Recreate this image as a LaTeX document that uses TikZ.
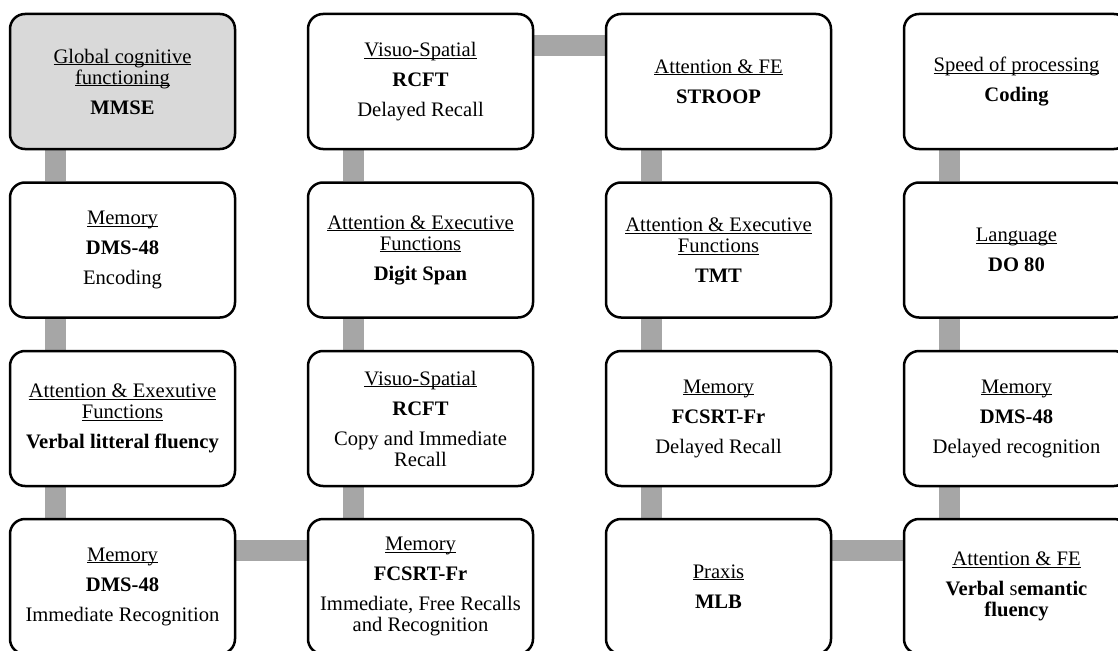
\documentclass[tikz,border=0pt]{standalone}
\usepackage{fontspec}
\setmainfont{Liberation Serif}
\usetikzlibrary{backgrounds}
\definecolor{barg}{RGB}{166,166,166}
\definecolor{boxg}{RGB}{217,217,217}
\newcommand\undl[1]{\underline{\raisebox{0pt}[\height][0pt]{#1}}}
\tikzstyle{testbox}=[draw,rounded corners=15pt,line width=2.5pt,fill=white,minimum width=225pt,minimum height=135pt,align=center,inner sep=0pt,font=\fontsize{20.6}{21}\selectfont]
\tikzstyle{linkbar}=[barg,line width=21pt]

\begin{document}
\begin{tikzpicture}[x=1pt,y=-1pt]
\useasboundingbox (0,0) rectangle (1118,650);
\clip (0,0) rectangle (1118,650);
% first column
\node[testbox,fill=boxg] (mmse) at (122.5,81.5) {\undl{Global cognitive}\\\undl{functioning}\\[9pt]\textbf{MMSE}};
\node[testbox] (dmsenc) at (122.5,250) {\undl{Memory}\\[9pt]\textbf{DMS-48}\\[9pt]Encoding};
\node[testbox] (vlf) at (122.5,418.5) {\undl{Attention \& Exexutive}\\\undl{Functions}\\[9pt]\textbf{Verbal litteral fluency}};
\node[testbox] (dmsimm) at (122.5,586.5) {\undl{Memory}\\[9pt]\textbf{DMS-48}\\[9pt]Immediate Recognition};
% second column
\node[testbox] (rcftdel) at (420.5,81.5) {\undl{Visuo-Spatial}\\[9pt]\textbf{RCFT}\\[9pt]Delayed Recall};
\node[testbox] (digit) at (420.5,250) {\undl{Attention \& Executive}\\\undl{Functions}\\[9pt]\textbf{Digit Span}};
\node[testbox] (rcftcopy) at (420.5,418.5) {\undl{Visuo-Spatial}\\[9pt]\textbf{RCFT}\\[9pt]Copy and Immediate\\Recall};
\node[testbox] (fcsimm) at (420.5,586.5) {\undl{Memory}\\[9pt]\textbf{FCSRT-Fr}\\[9pt]Immediate, Free Recalls\\and Recognition};
% third column
\node[testbox] (stroop) at (718.5,81.5) {\undl{Attention \& FE}\\[9pt]\textbf{STROOP}};
\node[testbox] (tmt) at (718.5,250) {\undl{Attention \& Executive}\\\undl{Functions}\\[9pt]\textbf{TMT}};
\node[testbox] (fcsdel) at (718.5,418.5) {\undl{Memory}\\[9pt]\textbf{FCSRT-Fr}\\[9pt]Delayed Recall};
\node[testbox] (mlb) at (718.5,586.5) {\undl{Praxis}\\[9pt]\textbf{MLB}};
% fourth column
\node[testbox] (coding) at (1016.5,81.5) {\undl{Speed of processing}\\[9pt]\textbf{Coding}};
\node[testbox] (do80) at (1016.5,250) {\undl{Language}\\[9pt]\textbf{DO 80}};
\node[testbox] (dmsdel) at (1016.5,418.5) {\undl{Memory}\\[9pt]\textbf{DMS-48}\\[9pt]Delayed recognition};
\node[testbox] (vsf) at (1016.5,586.5) {\undl{Attention \& FE}\\[9pt]\textbf{Verbal} s\textbf{emantic}\\\textbf{fluency}};
% connecting bars
\begin{scope}[on background layer]
\draw[linkbar] ([xshift=47pt]mmse.south west) -- ([xshift=47pt]dmsenc.north west);
\draw[linkbar] ([xshift=47pt]dmsenc.south west) -- ([xshift=47pt]vlf.north west);
\draw[linkbar] ([xshift=47pt]vlf.south west) -- ([xshift=47pt]dmsimm.north west);
\draw[linkbar] ([yshift=-33pt]dmsimm.north east) -- ([yshift=-33pt]fcsimm.north west);
\draw[linkbar] ([xshift=47pt]fcsimm.north west) -- ([xshift=47pt]rcftcopy.south west);
\draw[linkbar] ([xshift=47pt]rcftcopy.north west) -- ([xshift=47pt]digit.south west);
\draw[linkbar] ([xshift=47pt]digit.north west) -- ([xshift=47pt]rcftdel.south west);
\draw[linkbar] ([yshift=-33pt]rcftdel.north east) -- ([yshift=-33pt]stroop.north west);
\draw[linkbar] ([xshift=47pt]stroop.south west) -- ([xshift=47pt]tmt.north west);
\draw[linkbar] ([xshift=47pt]tmt.south west) -- ([xshift=47pt]fcsdel.north west);
\draw[linkbar] ([xshift=47pt]fcsdel.south west) -- ([xshift=47pt]mlb.north west);
\draw[linkbar] ([yshift=-33pt]mlb.north east) -- ([yshift=-33pt]vsf.north west);
\draw[linkbar] ([xshift=47pt]vsf.north west) -- ([xshift=47pt]dmsdel.south west);
\draw[linkbar] ([xshift=47pt]dmsdel.north west) -- ([xshift=47pt]do80.south west);
\draw[linkbar] ([xshift=47pt]do80.north west) -- ([xshift=47pt]coding.south west);
\end{scope}
\end{tikzpicture}
\end{document}
